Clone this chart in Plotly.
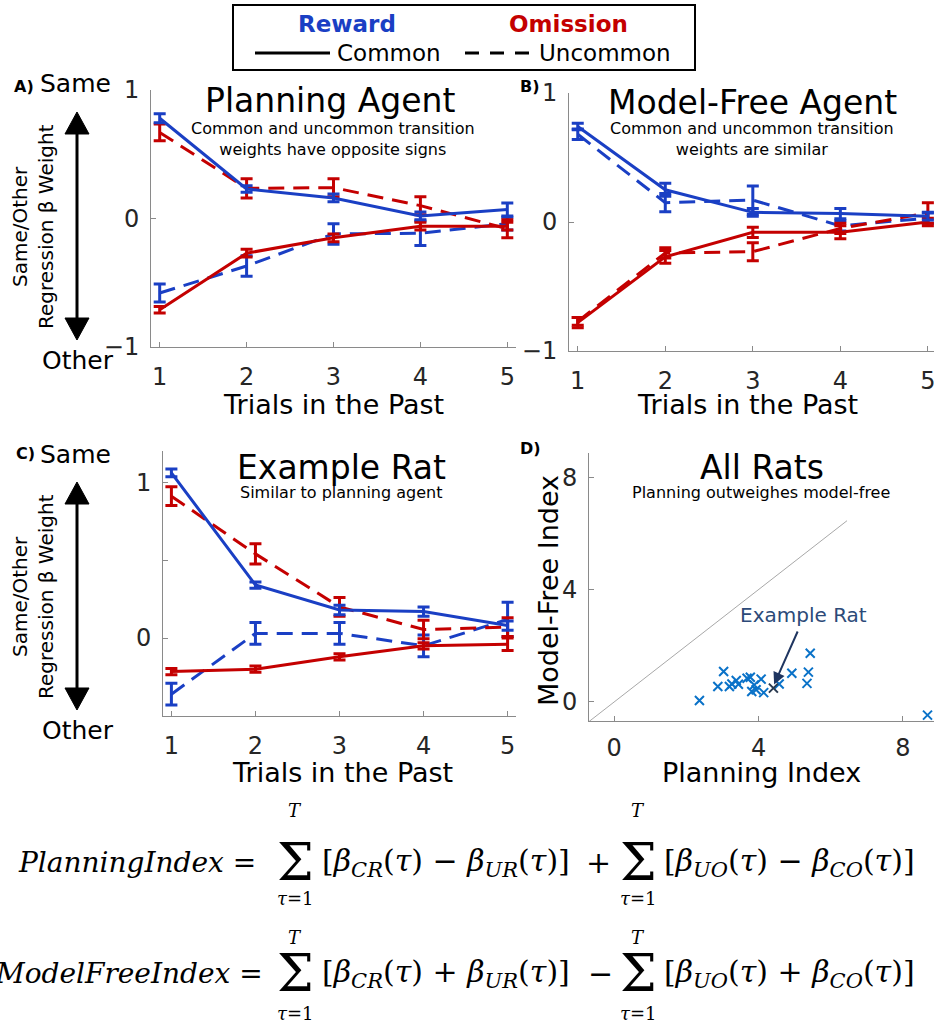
import plotly.graph_objects as go

W, H = 934, 1029


def PX(x):
    return x / W


def PY(y):
    return 1 - y / H


# ---------------- data ----------------
trials = [1, 2, 3, 4, 5]

# Panel A - Planning agent
plan_reward_common = [0.78, 0.23, 0.16, 0.02, 0.07]
plan_reward_common_err = [0.035, 0.025, 0.03, 0.03, 0.05]
plan_reward_uncommon = [-0.58, -0.37, -0.12, -0.115, -0.04]
plan_reward_uncommon_err = [0.07, 0.08, 0.08, 0.095, 0.05]
plan_omission_common = [-0.71, -0.27, -0.15, -0.06, -0.06]
plan_omission_common_err = [0.025, 0.03, 0.03, 0.03, 0.03]
plan_omission_uncommon = [0.67, 0.235, 0.24, 0.10, -0.08]
plan_omission_uncommon_err = [0.065, 0.075, 0.07, 0.07, 0.07]

# Panel B - Model-free agent
mf_reward_common = [0.74, 0.25, 0.075, 0.065, 0.045]
mf_reward_common_err = [0.025, 0.05, 0.03, 0.04, 0.03]
mf_reward_uncommon = [0.68, 0.15, 0.17, -0.03, 0.03]
mf_reward_uncommon_err = [0.04, 0.07, 0.11, 0.04, 0.04]
mf_omission_common = [-0.78, -0.27, -0.08, -0.08, 0.0]
mf_omission_common_err = [0.04, 0.05, 0.04, 0.05, 0.03]
mf_omission_uncommon = [-0.77, -0.24, -0.23, -0.05, 0.07]
mf_omission_uncommon_err = [0.03, 0.04, 0.07, 0.04, 0.08]

# Panel C - Example rat
rat_reward_common = [1.06, 0.34, 0.18, 0.17, 0.08]
rat_reward_common_err = [0.025, 0.02, 0.03, 0.03, 0.03]
rat_reward_uncommon = [-0.36, 0.03, 0.03, -0.05, 0.12]
rat_reward_uncommon_err = [0.07, 0.07, 0.07, 0.07, 0.11]
rat_omission_common = [-0.215, -0.20, -0.12, -0.05, -0.04]
rat_omission_common_err = [0.02, 0.02, 0.02, 0.02, 0.04]
rat_omission_uncommon = [0.91, 0.54, 0.20, 0.055, 0.07]
rat_omission_uncommon_err = [0.06, 0.065, 0.06, 0.06, 0.06]

# Panel D - All rats
planning_index = [2.36, 2.87, 3.03, 3.19, 3.26, 3.38, 3.44, 3.68, 3.77, 3.81,
                  3.88, 3.93, 4.07, 4.14, 4.57, 4.92, 5.34, 5.38, 5.43, 8.68]
model_free_index = [0.05, 0.55, 1.08, 0.55, 0.64, 0.76, 0.63, 0.84, 0.88, 0.37,
                    0.60, 0.43, 0.81, 0.33, 0.64, 1.02, 0.66, 1.06, 1.73, -0.47]
example_rat_planning = [4.41]
example_rat_model_free = [0.49]
identity_line = [-0.7, 6.45]

x_ticks = [1, 2, 3, 4, 5]
agent_y_ticks = [-1, 0, 1]
rat_y_ticks = [0, 0.5, 1]
rat_y_ticktext = ["0", "", "1"]
index_ticks = [0, 4, 8]

BLUE = "#1a3fc4"
RED = "#c40000"
DASH = "16px,9px"
FONT = "DejaVu Sans"

fig = go.Figure()


def add_panel(xa, ya, rc, rce, ru, rue, oc, oce, ou, oue):
    series = [
        (ru, rue, BLUE, DASH),
        (ou, oue, RED, DASH),
        (oc, oce, RED, "solid"),
        (rc, rce, BLUE, "solid"),
    ]
    for vals, errs, col, dash in series:
        fig.add_trace(go.Scatter(
            x=trials, y=vals, xaxis=xa, yaxis=ya, mode="lines",
            line=dict(color=col, width=3, dash=dash),
            error_y=dict(type="data", array=errs, visible=True, color=col,
                         thickness=3, width=6),
            showlegend=False, hoverinfo="skip"))


add_panel("x", "y", plan_reward_common, plan_reward_common_err,
          plan_reward_uncommon, plan_reward_uncommon_err,
          plan_omission_common, plan_omission_common_err,
          plan_omission_uncommon, plan_omission_uncommon_err)
add_panel("x2", "y2", mf_reward_common, mf_reward_common_err,
          mf_reward_uncommon, mf_reward_uncommon_err,
          mf_omission_common, mf_omission_common_err,
          mf_omission_uncommon, mf_omission_uncommon_err)
add_panel("x3", "y3", rat_reward_common, rat_reward_common_err,
          rat_reward_uncommon, rat_reward_uncommon_err,
          rat_omission_common, rat_omission_common_err,
          rat_omission_uncommon, rat_omission_uncommon_err)

# Panel D
fig.add_trace(go.Scatter(x=identity_line, y=identity_line, xaxis="x4", yaxis="y4",
                         mode="lines", line=dict(color="#a8a8a8", width=1),
                         showlegend=False, hoverinfo="skip"))
fig.add_trace(go.Scatter(x=planning_index, y=model_free_index, xaxis="x4", yaxis="y4",
                         mode="markers",
                         marker=dict(symbol="x-thin", size=9,
                                     line=dict(color="#0a72c8", width=2)),
                         showlegend=False, hoverinfo="skip"))
fig.add_trace(go.Scatter(x=example_rat_planning, y=example_rat_model_free,
                         xaxis="x4", yaxis="y4", mode="markers",
                         marker=dict(symbol="x-thin", size=9,
                                     line=dict(color="#2a3a50", width=2)),
                         showlegend=False, hoverinfo="skip"))

axis_common = dict(showline=True, linecolor="#8a8a8a", linewidth=1,
                   ticks="inside", ticklen=5, tickcolor="#8a8a8a",
                   tickfont=dict(family=FONT, size=24, color="#262626"),
                   showgrid=False, zeroline=False, mirror=False, fixedrange=True,
                   automargin=False, ticklabeloverflow="allow")

fig.update_layout(
    width=W, height=H, margin=dict(l=0, r=0, t=0, b=0, pad=0, autoexpand=False),
    paper_bgcolor="white", plot_bgcolor="white", showlegend=False,
    font=dict(family=FONT),
    xaxis=dict(domain=[PX(151), PX(516)], range=[0.9, 5.1], tickvals=x_ticks,
               anchor="y", ticklabelstandoff=8, **axis_common),
    yaxis=dict(domain=[PY(347), PY(90)], range=[-1, 1], tickvals=agent_y_ticks,
               anchor="x", ticklabelstandoff=6, **axis_common),
    xaxis2=dict(domain=[PX(569), 1.0], range=[0.9, 5.07], tickvals=x_ticks,
                anchor="y2", ticklabelstandoff=8, **axis_common),
    yaxis2=dict(domain=[PY(351), PY(93)], range=[-1, 1], tickvals=agent_y_ticks,
                anchor="x2", ticklabelstandoff=6, **axis_common),
    xaxis3=dict(domain=[PX(163), PX(516)], range=[0.9, 5.1], tickvals=x_ticks,
                anchor="y3", ticklabelstandoff=8, **axis_common),
    yaxis3=dict(domain=[PY(716), PY(451)], range=[-0.5, 1.2], tickvals=rat_y_ticks,
                ticktext=rat_y_ticktext, anchor="x3", ticklabelstandoff=6, **axis_common),
    xaxis4=dict(domain=[PX(589), 1.0], range=[-0.7, 8.86], tickvals=index_ticks,
                anchor="y4", ticklabelstandoff=5, **axis_common),
    yaxis4=dict(domain=[PY(721), PY(453)], range=[-0.68, 8.86], tickvals=index_ticks,
                anchor="x4", ticklabelstandoff=6, **axis_common),
)

ann = []


def txt(text, x, y, size, color="black", family=FONT, xanchor="center",
        yanchor="middle", angle=0):
    ann.append(dict(text=text, x=PX(x), y=PY(y), xref="paper", yref="paper",
                    showarrow=False, textangle=angle,
                    font=dict(family=family, size=size, color=color),
                    xanchor=xanchor, yanchor=yanchor))


# Legend box
txt("<b>Reward</b>", 347, 24, 23, BLUE)
txt("<b>Omission</b>", 568, 24, 23, RED)
txt("Common", 335, 53, 23, xanchor="left")
txt("Uncommon", 537, 53, 23, xanchor="left")

# Panel titles
txt("Planning Agent", 330, 101, 33)
txt("Common and uncommon transition<br>weights have opposite signs", 333, 139, 16)
txt("Model-Free Agent", 752, 102, 33)
txt("Common and uncommon transition<br>weights are similar", 752, 139, 16)
txt("Example Rat", 341, 467, 33)
txt("Similar to planning agent", 341, 493, 16)
txt("All Rats", 762, 467, 33)
txt("Planning outweighes model-free", 761, 493, 16)

# Panel letters
txt("<b>A)</b>", 24, 87, 16)
txt("<b>B)</b>", 530, 86, 16)
txt("<b>C)</b>", 25, 453, 16)
txt("<b>D)</b>", 530, 448, 16)

# Same / Other
txt("Same", 38, 84, 25, xanchor="left")
txt("Other", 40, 360, 25, xanchor="left")
txt("Same", 38, 454, 25, xanchor="left")
txt("Other", 40, 730, 25, xanchor="left")
txt("Same/Other", 20, 227, 20, angle=-90)
txt("Regression β Weight", 46, 227, 20, angle=-90)
txt("Same/Other", 20, 597, 20, angle=-90)
txt("Regression β Weight", 46, 597, 20, angle=-90)

# Axis titles
txt("Trials in the Past", 333, 405, 27)
txt("Trials in the Past", 747, 405, 27)
txt("Trials in the Past", 342, 772, 27)
txt("Planning Index", 761, 772, 27)
txt("Model-Free Index", 548, 591, 27, angle=-90)

# Example rat callout
ann.append(dict(x=4.43, y=0.62, xref="x4", yref="y4", ax=5.1, ay=2.56,
                axref="x4", ayref="y4", showarrow=True, arrowhead=2,
                arrowsize=1.2, arrowwidth=2, arrowcolor="#1f3560", text=""))
txt("Example Rat", 803, 615, 20, color="#2c4a78")

# Equations
SER = "DejaVu Serif"
NSZ = 28
BSZ = 30
txt("<i>PlanningIndex</i> =", 258, 862, NSZ, family=SER, xanchor="right")
txt("Σ", 295, 862, 52, family=SER)
txt("<i>T</i>", 295, 810, 18, family=SER)
txt("<i>τ</i>=1", 295, 898, 18, family=SER)
txt("[<i>β</i><sub><i>CR</i></sub>(<i>τ</i>) − <i>β</i><sub><i>UR</i></sub>(<i>τ</i>)]",
    320, 862, BSZ, family=SER, xanchor="left")
txt("+", 598, 862, BSZ, family=SER)
txt("Σ", 638, 862, 52, family=SER)
txt("<i>T</i>", 638, 810, 18, family=SER)
txt("<i>τ</i>=1", 638, 898, 18, family=SER)
txt("[<i>β</i><sub><i>UO</i></sub>(<i>τ</i>) − <i>β</i><sub><i>CO</i></sub>(<i>τ</i>)]",
    662, 862, BSZ, family=SER, xanchor="left")

txt("<i>ModelFreeIndex</i> =", 265, 973, NSZ, family=SER, xanchor="right")
txt("Σ", 295, 973, 52, family=SER)
txt("<i>T</i>", 295, 937, 18, family=SER)
txt("<i>τ</i>=1", 295, 1013, 18, family=SER)
txt("[<i>β</i><sub><i>CR</i></sub>(<i>τ</i>) + <i>β</i><sub><i>UR</i></sub>(<i>τ</i>)]",
    320, 973, BSZ, family=SER, xanchor="left")
txt("−", 600, 973, BSZ, family=SER)
txt("Σ", 638, 973, 52, family=SER)
txt("<i>T</i>", 638, 937, 18, family=SER)
txt("<i>τ</i>=1", 638, 1013, 18, family=SER)
txt("[<i>β</i><sub><i>UO</i></sub>(<i>τ</i>) + <i>β</i><sub><i>CO</i></sub>(<i>τ</i>)]",
    662, 973, BSZ, family=SER, xanchor="left")

fig.update_layout(annotations=ann)

# Shapes: legend box, legend samples, double arrows
shapes = []
shapes.append(dict(type="rect", xref="paper", yref="paper", x0=PX(233), x1=PX(695),
                   y0=PY(70), y1=PY(5), line=dict(color="black", width=2)))
shapes.append(dict(type="line", xref="paper", yref="paper", x0=PX(255), x1=PX(330),
                   y0=PY(53), y1=PY(53), line=dict(color="black", width=3)))
shapes.append(dict(type="line", xref="paper", yref="paper", x0=PX(465), x1=PX(530),
                   y0=PY(53), y1=PY(53), line=dict(color="black", width=3, dash="14px,11px")))


def double_arrow(xc, ytop, ybot):
    hw, hh = 12, 22
    shapes.append(dict(type="line", xref="paper", yref="paper", x0=PX(xc), x1=PX(xc),
                       y0=PY(ytop + hh - 2), y1=PY(ybot - hh + 2),
                       line=dict(color="black", width=3)))
    for tip, base in ((ytop, ytop + hh), (ybot, ybot - hh)):
        path = "M {:.5f},{:.5f} L {:.5f},{:.5f} L {:.5f},{:.5f} Z".format(
            PX(xc - hw), PY(base), PX(xc + hw), PY(base), PX(xc), PY(tip))
        shapes.append(dict(type="path", xref="paper", yref="paper", path=path,
                           fillcolor="black", line=dict(color="black", width=1)))


double_arrow(77, 112, 340)
double_arrow(77, 482, 710)

fig.update_layout(shapes=shapes)

fig.write_html("out.html", config={"responsive": False, "displayModeBar": False},
               post_script="document.body.style.margin='0';"
                           "document.body.style.overflow='hidden';")
